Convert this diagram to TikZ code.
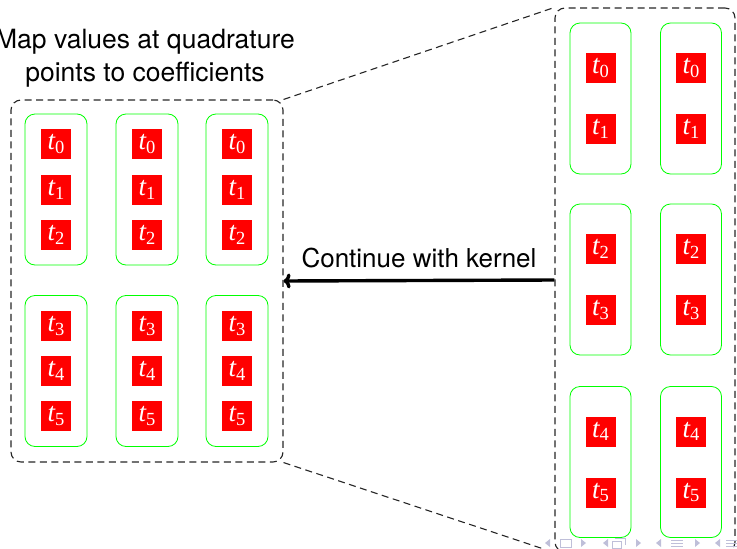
\documentclass[tikz,border=0pt]{standalone}
\usepackage{fontspec}
\setmainfont{TeX Gyre Heros}
\newfontfamily\tserif{Liberation Serif}
\usetikzlibrary{arrows.meta}

% label t_i set as italic t with an upright subscript
\newcommand{\tlab}[1]{{\tserif\itshape t}\raisebox{-3.5pt}{\fontsize{18.5}{18.5}\selectfont\tserif #1}}

\tikzset{
  tsq/.style={fill=red, text=white, minimum size=30pt, inner sep=0pt,
              font=\fontsize{27}{27}\selectfont},
  gbox/.style={draw=green, line width=0.8pt, rounded corners=10pt,
               minimum width=62pt, minimum height=151pt, inner sep=0pt},
  dbox/.style={draw=black!85, line width=1.1pt, dash pattern=on 7pt off 4.5pt,
               rounded corners=10pt, inner sep=0pt},
  dline/.style={draw=black!85, line width=1.1pt, dash pattern=on 7pt off 4.5pt},
  bigtext/.style={font=\fontsize{26}{33.5}\selectfont},
  headtext/.style={font=\fontsize{26.5}{33.5}\selectfont},
  navcol/.style={blue!25!gray!40},
}

\begin{document}
\begin{tikzpicture}[x=1pt, y=-1pt]
  \useasboundingbox (0,0) rectangle (737,549);
  \clip (0,0) rectangle (737,549);

  % ---------- left block: three columns of two groups ----------
  \node[dbox, minimum width=272pt, minimum height=362pt] (lbox) at (147,281) {};
  \foreach \c/\x in {1/56, 2/147, 3/237} {
    \node[gbox] (lg\c a) at (\x,189.5) {};
    \node[gbox] (lg\c b) at (\x,371) {};
    \node[tsq] (l\c t0) at (\x,144) {\tlab{0}};
    \node[tsq] (l\c t1) at (\x,190) {\tlab{1}};
    \node[tsq] (l\c t2) at (\x,235) {\tlab{2}};
    \node[tsq] (l\c t3) at (\x,326) {\tlab{3}};
    \node[tsq] (l\c t4) at (\x,371) {\tlab{4}};
    \node[tsq] (l\c t5) at (\x,416) {\tlab{5}};
  }

  % ---------- right block: two columns of three groups ----------
  \node[dbox, minimum width=180pt, minimum height=544pt] (rbox) at (645,280) {};
  \foreach \c/\x in {1/600.5, 2/691} {
    \node[gbox, minimum width=61pt] (rg\c a) at (\x,98.5) {};
    \node[gbox, minimum width=61pt] (rg\c b) at (\x,279.5) {};
    \node[gbox, minimum width=61pt] (rg\c c) at (\x,462) {};
    \node[tsq] (r\c t0) at (\x,68) {\tlab{0}};
    \node[tsq] (r\c t1) at (\x,129) {\tlab{1}};
    \node[tsq] (r\c t2) at (\x,249) {\tlab{2}};
    \node[tsq] (r\c t3) at (\x,310) {\tlab{3}};
    \node[tsq] (r\c t4) at (\x,431.5) {\tlab{4}};
    \node[tsq] (r\c t5) at (\x,492.5) {\tlab{5}};
  }

  % zoom lines joining the two blocks
  \draw[dline] (lbox.north east) -- (rbox.north west);
  \draw[dline] (lbox.south east) -- (rbox.south west);

  % arrow back from the right block to the left block
  \draw[line width=3.4pt, -{To[length=7pt, width=15pt]}] (rbox.west) -- (lbox.east)
    node[midway, anchor=base, yshift=13pt, bigtext] (arrowlabel) {Continue with kernel};

  % heading (base anchor sits on the last line)
  \node[headtext, align=center, anchor=base] (title) at (145,81.5)
    {Map values at quadrature\\points to coefficients};

  % navigation symbols
  \begin{scope}[line width=0.9pt]
    \fill[navcol] (550,539) -- (550,547) -- (545,543) -- cycle;
    \draw[navcol] (560,539) rectangle (571,547);
    \fill[navcol] (581,539) -- (581,547) -- (586,543) -- cycle;
    \fill[navcol] (608,539) -- (608,547) -- (603,543) -- cycle;
    \draw[navcol] (612,541) rectangle (621,548);
    \draw[navcol] (615,538) -- (625,538) -- (625,545);
    \fill[navcol] (636,539) -- (636,547) -- (641,543) -- cycle;
    \fill[navcol] (661,539) -- (661,547) -- (656,543) -- cycle;
    \draw[navcol] (671,540) -- (683,540) (671,543) -- (683,543) (671,546) -- (683,546);
    \fill[navcol] (695,539) -- (695,547) -- (700,543) -- cycle;
    \fill[navcol] (720,539) -- (720,547) -- (715,543) -- cycle;
    \draw[navcol] (726,540) -- (737,540) (726,543) -- (737,543) (726,546) -- (737,546);
  \end{scope}
\end{tikzpicture}
\end{document}
